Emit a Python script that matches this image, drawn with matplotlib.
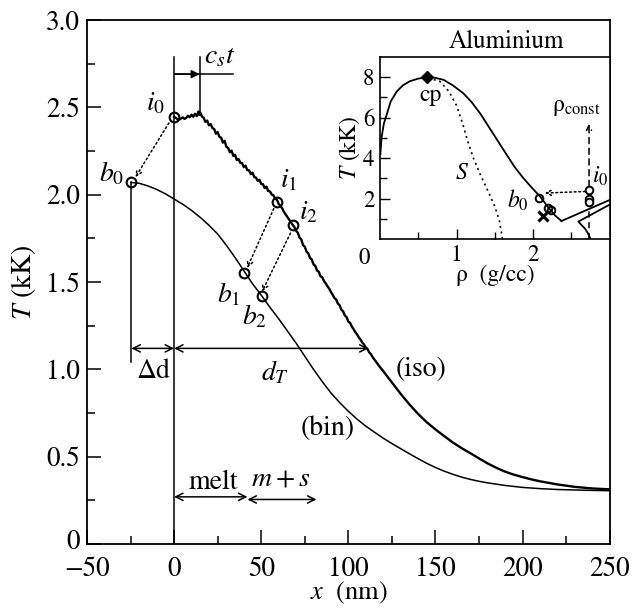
import numpy as np
import matplotlib
matplotlib.use("Agg")
import matplotlib.pyplot as plt
from matplotlib.transforms import ScaledTranslation

plt.rcParams['font.family'] = ['STIXGeneral', 'DejaVu Serif']
plt.rcParams['mathtext.fontset'] = 'stix'

# ---- main panel data: T(x) profiles ----
bin_x = [-24.5, -20, -15, -10, -5, 0, 5, 10, 15, 20, 25, 30, 35, 40, 45, 50, 55, 60, 65, 70,
         75, 80, 85, 90, 95, 100, 105, 110, 115, 120, 125, 130, 135, 140, 145, 150, 155, 160,
         165, 170, 175, 180, 190, 200, 210, 220, 235, 250]
bin_T = [2.07, 2.065, 2.05, 2.03, 2.005, 1.975, 1.945, 1.91, 1.87, 1.825, 1.775, 1.71, 1.64,
         1.565, 1.49, 1.425, 1.355, 1.29, 1.22, 1.15, 1.075, 1.0, 0.93, 0.865, 0.81, 0.76,
         0.715, 0.675, 0.64, 0.606, 0.575, 0.546, 0.517, 0.489, 0.462, 0.438, 0.417, 0.399,
         0.383, 0.37, 0.359, 0.35, 0.335, 0.324, 0.317, 0.312, 0.308, 0.305]

iso_x = [0, 1, 2, 3, 4, 5, 6, 7, 8, 9, 10, 11, 12, 13, 14, 14.5, 15, 16, 17, 18, 19, 20, 21,
         22, 23, 24, 25, 26, 27, 28, 29, 30, 31, 32, 33, 34, 35, 36, 37, 38, 39, 40, 41, 42,
         43, 44, 45, 46, 47, 48, 49, 50, 51, 52, 53, 54, 55, 56, 57, 58, 59, 60, 61, 62, 63,
         64, 65, 66, 67, 68, 69, 70, 71, 72, 73, 74, 75, 76, 77, 78, 79, 80, 81, 82, 83, 84,
         85, 86, 87, 88, 89, 90, 91, 92, 93, 94, 95, 96, 97, 98, 99, 100, 101, 102, 103, 104,
         105, 106, 107, 108, 109, 110, 111, 112, 113, 114, 116, 118, 120, 125, 130, 135, 140,
         145, 150, 155, 160, 165, 170, 175, 180, 185, 190, 195, 200, 205, 210, 220, 230, 240,
         250]
iso_T = [2.445, 2.44, 2.432, 2.43, 2.436, 2.442, 2.434, 2.44, 2.452, 2.443, 2.458, 2.446,
         2.463, 2.45, 2.476, 2.456, 2.47, 2.447, 2.44, 2.416, 2.424, 2.397, 2.404, 2.381,
         2.376, 2.349, 2.358, 2.331, 2.326, 2.298, 2.308, 2.274, 2.268, 2.243, 2.252, 2.222,
         2.228, 2.198, 2.204, 2.182, 2.181, 2.158, 2.166, 2.141, 2.139, 2.118, 2.126, 2.101,
         2.098, 2.079, 2.085, 2.061, 2.06, 2.038, 2.046, 2.021, 2.019, 2.001, 1.996, 1.977,
         1.972, 1.947, 1.937, 1.922, 1.902, 1.887, 1.873, 1.856, 1.842, 1.828, 1.815, 1.794,
         1.782, 1.754, 1.744, 1.711, 1.702, 1.674, 1.664, 1.638, 1.629, 1.601, 1.593, 1.566,
         1.559, 1.533, 1.527, 1.506, 1.492, 1.476, 1.462, 1.443, 1.427, 1.408, 1.4, 1.376,
         1.367, 1.341, 1.332, 1.308, 1.299, 1.273, 1.266, 1.245, 1.23, 1.213, 1.2, 1.183,
         1.17, 1.153, 1.142, 1.125, 1.116, 1.097, 1.086, 1.069, 1.042, 1.015, 0.99, 0.925,
         0.86, 0.8, 0.745, 0.697, 0.656, 0.618, 0.581, 0.549, 0.52, 0.49, 0.461, 0.436,
         0.414, 0.397, 0.383, 0.37, 0.359, 0.341, 0.327, 0.318, 0.313]

# marked states (x in nm, T in kK)
i_x = [0, 59.2, 68.2]
i_T = [2.445, 1.96, 1.825]
b_x = [-24.5, 40.4, 50.5]
b_T = [2.07, 1.55, 1.42]

# ---- inset data: phase diagram of aluminium ----
binodal_rho = [0.005, 0.02, 0.05, 0.088, 0.14, 0.22, 0.3, 0.39, 0.5, 0.61, 0.72, 0.83, 0.95,
               1.09, 1.2, 1.31, 1.42, 1.53, 1.64, 1.76, 1.87, 1.97, 2.09, 2.2, 2.29, 2.37]
binodal_T = [4.2, 5.0, 5.7, 6.15, 6.8, 7.3, 7.6, 7.8, 7.93, 8.0, 7.97, 7.87, 7.6, 7.2, 6.75,
             6.2, 5.55, 4.9, 4.25, 3.55, 3.02, 2.59, 2.1, 1.55, 1.15, 0.89]
spinodal_rho = [0.63, 0.78, 0.9, 1.0, 1.08, 1.14, 1.22, 1.32, 1.42, 1.5, 1.56, 1.6]
spinodal_T = [7.95, 7.8, 7.3, 6.6, 5.7, 4.9, 4.0, 3.1, 2.3, 1.6, 0.9, 0.0]
melt1_rho = [2.37, 3.0]
melt1_T = [0.89, 1.93]
melt2_rho = [3.0, 2.59, 2.63, 2.68, 2.72, 2.75]
melt2_T = [1.7, 0.86, 0.7, 0.5, 0.25, 0.0]
cp_rho, cp_T = 0.61, 8.0
rho_const = 2.73
inset_i_T = [2.43, 1.97, 1.83]
inset_b_rho = [2.08, 2.19, 2.23]
inset_b_T = [2.05, 1.55, 1.42]
cross_rho, cross_T = 2.135, 1.15

fig = plt.figure(figsize=(6.33, 6.10), dpi=100)
ax = fig.add_axes([0.1374, 0.1082, 0.8258, 0.859])

ax.plot(bin_x, bin_T, color='black', lw=1.1)
ax.plot(iso_x, iso_T, color='black', lw=1.7)
ax.plot(i_x, i_T, 'o', ms=7, mfc='none', mec='black', mew=1.5)
ax.plot(b_x, b_T, 'o', ms=7, mfc='none', mec='black', mew=1.5)

# dotted arrows from iso states to bin states
for xs, ts, xe, te in [(-3, 2.41, -22.2, 2.10), (57.2, 1.92, 41.9, 1.58), (66.8, 1.78, 50.5, 1.445)]:
    ax.annotate('', xy=(xe, te), xytext=(xs, ts),
                arrowprops=dict(arrowstyle='->', ls=(0, (1.2, 1.8)), lw=1.1, color='black',
                                shrinkA=0, shrinkB=0, mutation_scale=10))

# construction lines
ax.plot([0, 0], [0, 2.79], color='black', lw=1.1)
ax.plot([b_x[0], b_x[0]], [1.04, b_T[0]], color='black', lw=1.1)
ax.plot([14.7, 14.7], [2.46, 2.79], color='black', lw=1.1)
ax.plot([0.5, 34], [2.69, 2.69], color='black', lw=1.1)
ax.annotate('', xy=(14.7, 2.69), xytext=(0.5, 2.69),
            arrowprops=dict(arrowstyle='-|>', lw=1.1, color='black', shrinkA=0, shrinkB=0,
                            mutation_scale=12))

dbl = dict(arrowstyle='<->', lw=1.1, color='black', shrinkA=0, shrinkB=0, mutation_scale=13)
ax.annotate('', xy=(b_x[0], 1.12), xytext=(0, 1.12), arrowprops=dbl)
ax.annotate('', xy=(0, 1.12), xytext=(111.6, 1.12), arrowprops=dbl)
ax.annotate('', xy=(0, 0.27), xytext=(42.1, 0.27), arrowprops=dbl)
ax.annotate('', xy=(42.1, 0.255), xytext=(81.7, 0.255), arrowprops=dbl)

fm = 20   # math labels
fw = 20   # word labels
ax.text(-10.7, 2.52, r'$i_0$', fontsize=fm, ha='center', va='center')
ax.text(-35.6, 2.12, r'$b_0$', fontsize=fm, ha='center', va='center')
ax.text(65.8, 2.08, r'$i_1$', fontsize=fm, ha='center', va='center')
ax.text(77.3, 1.90, r'$i_2$', fontsize=fm, ha='center', va='center')
ax.text(31.4, 1.43, r'$b_1$', fontsize=fm, ha='center', va='center')
ax.text(46.1, 1.30, r'$b_2$', fontsize=fm, ha='center', va='center')
ax.text(26, 2.79, r'$c_s t$', fontsize=fm, ha='center', va='center')
ax.text(-12, 0.99, 'Δd', fontsize=fw, ha='center', va='center')
ax.text(57.7, 0.98, r'$d_T$', fontsize=fm, ha='center', va='center')
ax.text(142, 1.0, '(iso)', fontsize=fw, ha='center', va='center')
ax.text(88.3, 0.66, '(bin)', fontsize=fw, ha='center', va='center')
ax.text(22.3, 0.35, 'melt', fontsize=fw, ha='center', va='center')
ax.text(61, 0.37, r'$m + s$', fontsize=fm, ha='center', va='center')

ax.set_xlim(-50, 250)
ax.set_ylim(0, 3.0)
ax.set_xticks([-50, 0, 50, 100, 150, 200, 250])
ax.set_xticks(np.arange(-25, 250, 50), minor=True)
ax.set_yticks([0, 0.5, 1.0, 1.5, 2.0, 2.5, 3.0])
ax.set_yticklabels(['0', '0.5', '1.0', '1.5', '2.0', '2.5', '3.0'])
ax.set_yticks(np.arange(0.25, 3.0, 0.5), minor=True)
ax.tick_params(which='both', direction='in', top=False, right=False, labelsize=19.5, width=1.1)
ax.tick_params(which='major', length=10)
ax.tick_params(axis='x', which='major', pad=9)
ax.tick_params(axis='y', which='major', pad=5)
ax.tick_params(which='minor', length=6)
for s in ax.spines.values():
    s.set_linewidth(1.3)
ax.set_xlabel(r'$x$  (nm)', fontsize=19, labelpad=-1)
ax.set_ylabel(r'$T$ (kK)', fontsize=20, labelpad=6)
# lift the corner "0" a little so it clears the "-50" below it
zero_lbl = ax.get_yticklabels()[0]
zero_lbl.set_transform(zero_lbl.get_transform() + ScaledTranslation(0, 3 / 72, fig.dpi_scale_trans))

# ---- inset ----
ins = fig.add_axes([0.6003, 0.6082, 0.3629, 0.2984])
ins.plot(binodal_rho, binodal_T, color='black', lw=1.3)
ins.plot(spinodal_rho, spinodal_T, color='black', lw=1.2, ls=(0, (1.2, 2.2)))
ins.plot(melt1_rho, melt1_T, color='black', lw=1.3)
ins.plot(melt2_rho, melt2_T, color='black', lw=1.3)
ins.plot([rho_const, rho_const], [0, 2.6], color='black', lw=1.1, ls=(0, (4, 3)))
ins.annotate('', xy=(rho_const, 5.7), xytext=(rho_const, 2.6),
             arrowprops=dict(arrowstyle='->', ls=(0, (4, 3)), lw=1.1, color='black',
                             shrinkA=0, shrinkB=0, mutation_scale=9))
ins.annotate('', xy=(2.15, 2.27), xytext=(2.68, 2.35),
             arrowprops=dict(arrowstyle='->', ls=(0, (1.2, 1.8)), lw=1.1, color='black',
                             shrinkA=0, shrinkB=0, mutation_scale=9))
ins.plot([cp_rho], [cp_T], 'D', ms=6, color='black')
ins.plot([rho_const] * 3, inset_i_T, 'o', ms=5.5, mfc='white', mec='black', mew=1.4)
ins.plot(inset_b_rho, inset_b_T, 'o', ms=5.5, mfc='none', mec='black', mew=1.4)
ins.plot([cross_rho], [cross_T], 'x', ms=7, mew=2.2, color='black')

fi = 17
ins.text(0.66, 7.1, 'cp', fontsize=fi, ha='center', va='center')
ins.text(1.07, 3.25, r'$S$', fontsize=fi, ha='center', va='center')
ins.text(1.8, 1.93, r'$b_0$', fontsize=fi, ha='center', va='center')
ins.text(2.87, 3.1, r'$i_0$', fontsize=fi, ha='center', va='center')
ins.text(2.57, 6.5, 'ρ$_{\\rm const}$', fontsize=fi, ha='center', va='center')
ins.text(-0.2, -0.95, '0', fontsize=16.5, ha='center', va='center')

ins.set_xlim(0, 3)
ins.set_ylim(0, 9)
ins.set_xticks([1, 2])
ins.set_xticks([0.5, 1.5, 2.5], minor=True)
ins.set_yticks([2, 4, 6, 8])
ins.set_yticks([1, 3, 5, 7], minor=True)
ins.tick_params(which='both', direction='in', top=False, right=False, labelsize=16.5, width=1.0)
ins.tick_params(which='major', length=7, pad=4)
ins.tick_params(which='minor', length=5)
for s in ins.spines.values():
    s.set_linewidth(1.2)
ins.set_xlabel('ρ  (g/cc)', fontsize=17, labelpad=-1)
ins.set_ylabel(r'$T$ (kK)', fontsize=17, labelpad=1)
fig.text(506 / 633, 1 - 41.7 / 610, 'Aluminium', fontsize=18, ha='center', va='center')

fig.savefig('out.png', dpi=100)
